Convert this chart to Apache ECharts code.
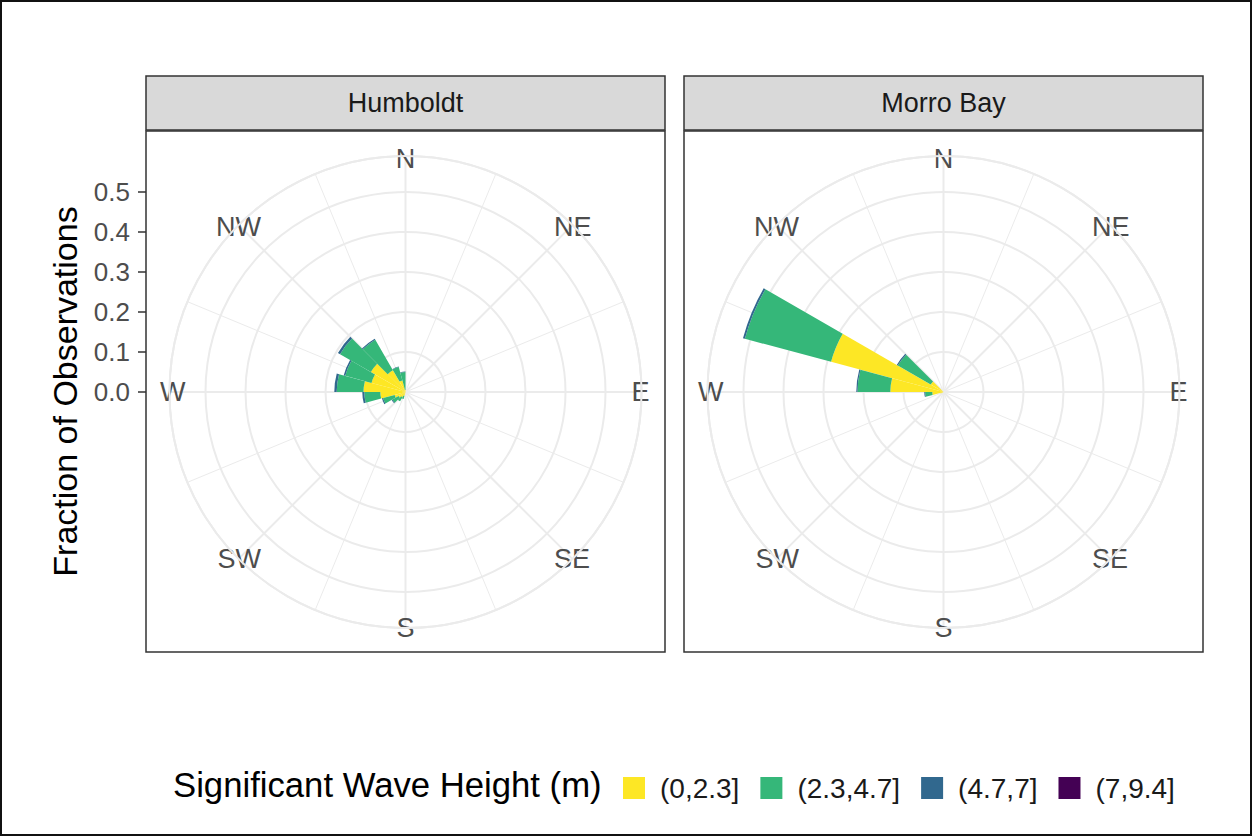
<!DOCTYPE html>
<html><head><meta charset="utf-8">
<script src="https://cdn.jsdelivr.net/npm/echarts@6/dist/echarts.min.js"></script>
<style>
html,body{margin:0;padding:0;background:#fff}
#wrap{position:relative;width:1252px;height:836px}
#chart{width:1252px;height:836px}
#frame{position:absolute;left:0;top:0;width:1252px;height:836px;box-sizing:border-box;border:2px solid #111;pointer-events:none}
</style>
</head><body><div id="wrap"><div id="chart"></div><div id="frame"></div></div>
<script>
// ---- data ----
// 24 direction bins of 15 degrees, clockwise from North (bin i = [15i, 15i+15))
const directionBins = ['0','15','30','45','60','75','90','105','120','135','150','165',
                       '180','195','210','225','240','255','270','285','300','315','330','345'];
const compassLabels = ['N','NE','E','SE','S','SW','W','NW'];
const heightClasses = ['(0,2.3]','(2.3,4.7]','(4.7,7]','(7,9.4]'];
const yTickValues = [0, 0.1, 0.2, 0.3, 0.4, 0.5];
const panelTitles = ['Humboldt','Morro Bay'];

const humboldt_0_2p3   = [0,0,0,0,0,0,0,0,0,0,0,0, 0,0.010,0.015,0.020,0.028,0.063,0.105,0.088,0.100,0.063,0.030,0.005];
const humboldt_2p3_4p7 = [0,0,0,0,0,0,0,0,0,0,0,0, 0,0.008,0.012,0.018,0.030,0.040,0.067,0.068,0.089,0.088,0.035,0.045];
const humboldt_4p7_7   = [0,0,0,0,0,0,0,0,0,0,0,0, 0,0,0,0.002,0.003,0.005,0.006,0.004,0.006,0.003,0.001,0.001];
const humboldt_7_9p4   = [0,0,0,0,0,0,0,0,0,0,0,0, 0,0,0,0,0,0,0,0,0,0,0,0];

const morro_0_2p3   = [0,0,0,0,0,0,0,0,0,0,0,0, 0,0,0,0,0.008,0.028,0.133,0.291,0.037,0,0,0];
const morro_2p3_4p7 = [0,0,0,0,0,0,0,0,0,0,0,0, 0,0,0,0,0,0.018,0.082,0.223,0.095,0,0,0];
const morro_4p7_7   = [0,0,0,0,0,0,0,0,0,0,0,0, 0,0,0,0,0,0.002,0.003,0.005,0.003,0,0,0];
const morro_7_9p4   = [0,0,0,0,0,0,0,0,0,0,0,0, 0,0,0,0,0,0,0,0,0,0,0,0];

const panelSeries = [
  [humboldt_0_2p3, humboldt_2p3_4p7, humboldt_4p7_7, humboldt_7_9p4],
  [morro_0_2p3, morro_2p3_4p7, morro_4p7_7, morro_7_9p4]
];

// ---- layout / style ----
const FONT = '"Liberation Sans", Arial, Helvetica, sans-serif';
const colors = ['#FDE725','#35B779','#31688E','#440154'];
const PX = 400;          // px per unit of fraction
const R = 236;           // outer circle radius in px
const RMAX = R / PX;
const CY = 392;
const panelLefts = [146, 684];
const panelW = 519, panelTop = 131, panelH = 521;
const stripTop = 76, stripH = 54;
const GRID_COLOR = '#ebebeb';
const labelPad = { N:[0,0,10,0], NE:[0,0,3,0], E:[0,0,0,16], SE:[5,0,0,0],
                   S:[12,0,0,0], SW:[5,-4,0,0], W:[0,10,0,0], NW:[0,-4,3,0] };

const grid = [], xAxis = [], yAxis = [], polar = [], angleAxis = [], radiusAxis = [], series = [], title = [];

panelLefts.forEach((left, k) => {
  const cx = left + panelW / 2;
  grid.push({ left: left, top: panelTop, width: panelW, height: panelH, show: true,
    backgroundColor: '#fff', borderColor: '#333', borderWidth: 1.5, outerBoundsMode: 'none', z: -1 });
  grid.push({ left: left, top: stripTop, width: panelW, height: stripH, show: true,
    backgroundColor: '#d9d9d9', borderColor: '#333', borderWidth: 1.5, outerBoundsMode: 'none', z: -1 });
  const gPanel = 2 * k, gStrip = 2 * k + 1;
  xAxis.push({ gridIndex: gPanel, type: 'value', show: false });
  xAxis.push({ gridIndex: gStrip, type: 'value', show: false });
  const yMin = -(panelTop + panelH - CY) / PX, yMax = (CY - panelTop) / PX;
  if (k === 0) {
    yAxis.push({ gridIndex: gPanel, type: 'value', min: yMin, max: yMax, position: 'left',
      axisLine: { show: false }, splitLine: { show: false },
      axisTick: { show: true, length: 8, customValues: yTickValues, lineStyle: { color: '#333', width: 1.5 } },
      axisLabel: { show: true, customValues: yTickValues, formatter: v => v.toFixed(1), margin: 16,
        fontSize: 26, color: '#4d4d4d', fontFamily: FONT },
      name: 'Fraction of Observations', nameLocation: 'middle', nameGap: 64, nameMoveOverlap: false,
      nameTextStyle: { fontSize: 34, color: '#000', fontFamily: FONT } });
  } else {
    yAxis.push({ gridIndex: gPanel, type: 'value', min: yMin, max: yMax, show: false });
  }
  yAxis.push({ gridIndex: gStrip, type: 'value', show: false });

  for (let i = 0; i < 3; i++) polar.push({ center: [cx, CY], radius: [0, R] });
  const pGrid = 3 * k, pBars = 3 * k + 1, pLab = 3 * k + 2;

  angleAxis.push({ polarIndex: pGrid, type: 'value', min: 0, max: 360, interval: 45, startAngle: 90, clockwise: true,
    axisLine: { show: true, lineStyle: { color: GRID_COLOR, width: 2 } },
    axisTick: { show: false }, axisLabel: { show: false },
    splitLine: { show: true, lineStyle: { color: GRID_COLOR, width: 2 } },
    minorTick: { show: false, splitNumber: 2 },
    minorSplitLine: { show: true, lineStyle: { color: GRID_COLOR, width: 1 } } });
  radiusAxis.push({ polarIndex: pGrid, type: 'value', min: 0, max: RMAX, interval: 0.1,
    axisLine: { show: false }, axisTick: { show: false }, axisLabel: { show: false },
    splitLine: { show: true, lineStyle: { color: GRID_COLOR, width: 2 } } });

  angleAxis.push({ polarIndex: pBars, type: 'category', data: directionBins, startAngle: 90, clockwise: true,
    boundaryGap: true, axisLine: { show: false }, axisTick: { show: false }, axisLabel: { show: false },
    splitLine: { show: false } });
  radiusAxis.push({ polarIndex: pBars, type: 'value', min: 0, max: RMAX,
    axisLine: { show: false }, axisTick: { show: false }, axisLabel: { show: false }, splitLine: { show: false } });

  angleAxis.push({ polarIndex: pLab, type: 'category', startAngle: 90, clockwise: true, boundaryGap: false,
    data: compassLabels.map(c => ({ value: c, textStyle: { padding: labelPad[c] } })),
    axisLine: { show: false }, axisTick: { show: false }, splitLine: { show: false },
    axisLabel: { show: true, interval: 0, margin: -26, fontSize: 27, color: '#4d4d4d', fontFamily: FONT } });
  radiusAxis.push({ polarIndex: pLab, type: 'value', min: 0, max: RMAX,
    axisLine: { show: false }, axisTick: { show: false }, axisLabel: { show: false }, splitLine: { show: false } });

  panelSeries[k].forEach((vals, j) => {
    series.push({ type: 'bar', name: heightClasses[j], coordinateSystem: 'polar', polarIndex: pBars,
      stack: 'panel' + k, data: vals, barCategoryGap: '0%', barGap: '0%',
      itemStyle: { color: colors[j], borderWidth: 0 },
      emphasis: { disabled: true }, silent: true });
  });

  title.push({ text: panelTitles[k], left: cx, top: stripTop + stripH / 2, textAlign: 'center',
    textVerticalAlign: 'middle', padding: 0,
    textStyle: { fontSize: 27, fontWeight: 'normal', color: '#1a1a1a', fontFamily: FONT } });
});

title.push({ text: 'Significant Wave Height (m)', left: 173, top: 785, textVerticalAlign: 'middle', padding: 0,
  textStyle: { fontSize: 34.7, fontWeight: 'normal', color: '#000', fontFamily: FONT } });

const option = {
  backgroundColor: '#fff',
  animation: false,
  title, grid, xAxis, yAxis, polar, angleAxis, radiusAxis, series,
  legend: { data: heightClasses, left: 623, top: 774, orient: 'horizontal', icon: 'rect',
    itemWidth: 22, itemHeight: 22, itemGap: 21, selectedMode: false, padding: 0,
    itemStyle: { borderWidth: 0 },
    textStyle: { fontSize: 28, color: '#1a1a1a', fontFamily: FONT, padding: [0, 0, 0, 10] } },
  tooltip: { show: false }
};

const chart = echarts.init(document.getElementById('chart'), null, { renderer: 'svg', width: 1252, height: 836 });
chart.setOption(option);
</script>
</body></html>
